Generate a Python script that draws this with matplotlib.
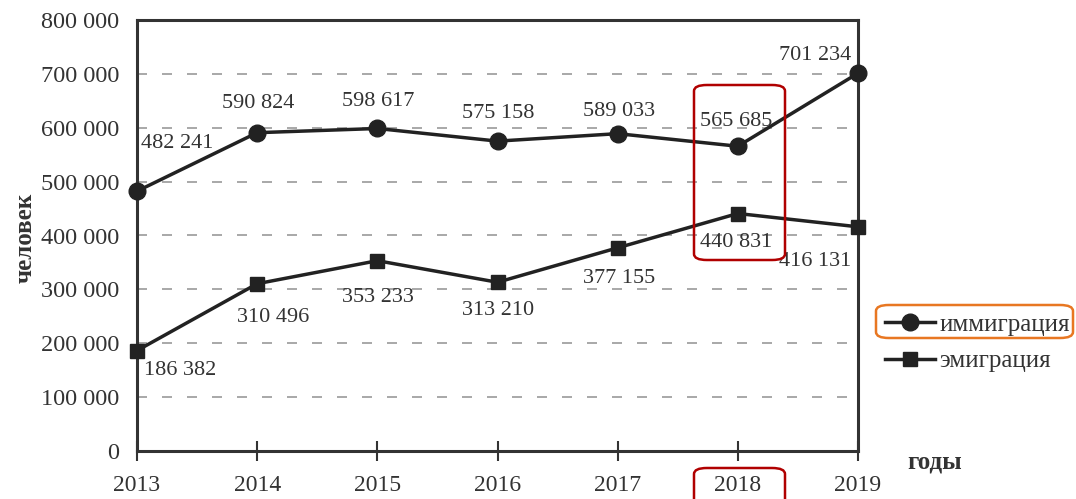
import matplotlib.pyplot as plt
from matplotlib.patches import FancyBboxPatch
from matplotlib.lines import Line2D

years = [2013, 2014, 2015, 2016, 2017, 2018, 2019]
immigration = [482241, 590824, 598617, 575158, 589033, 565685, 701234]
emigration = [186382, 310496, 353233, 313210, 377155, 440831, 416131]
yticks = [0, 100000, 200000, 300000, 400000, 500000, 600000, 700000, 800000]

# label offsets in pixels relative to each point
imm_offsets = [(40, 48), (1, 29), (1, 27), (1, 28), (1, 22), (-2, 25), (-43, 18)]
emi_offsets = [(43, -20), (16, -34), (1, -37), (1, -28), (1, -31), (-2, -29), (-43, -35)]

def fmt(v):
    return f'{v:,}'.replace(',', ' ')

plt.rcParams['font.family'] = ['Liberation Serif', 'DejaVu Serif']
txt = '#333333'

fig = plt.figure(figsize=(10.76, 4.99), dpi=100)
ax = fig.add_axes([137 / 1076, 1 - 451 / 499, (858 - 137) / 1076, (451 - 20) / 499])

ax.plot(years, immigration, color='#222222', lw=2.5, marker='o', ms=12, clip_on=False, zorder=5)
ax.plot(years, emigration, color='#222222', lw=2.5, marker='s', ms=10.5, clip_on=False, zorder=5)

for x, y, off in zip(years, immigration, imm_offsets):
    ax.annotate(fmt(y), (x, y), xytext=off, textcoords='offset pixels',
                ha='center', va='center', fontsize=16, color=txt)
for x, y, off in zip(years, emigration, emi_offsets):
    ax.annotate(fmt(y), (x, y), xytext=off, textcoords='offset pixels',
                ha='center', va='center', fontsize=16, color=txt)

ax.set_xlim(2013, 2019)
ax.set_ylim(0, 800000)
ax.set_xticks(years)
ax.set_xticklabels([str(y) for y in years])
ax.set_yticks(yticks)
ax.set_yticklabels([fmt(v) for v in yticks])
ax.tick_params(axis='x', direction='inout', length=14, width=1.5, color='#333333',
               pad=10, labelsize=17, labelcolor=txt)
ax.tick_params(axis='y', length=0, pad=13, labelsize=17.5, labelcolor=txt)

for yv in yticks[1:-1]:
    ax.axhline(yv, color='#999999', lw=1.2, dashes=(6, 9), zorder=1)

for s in ax.spines.values():
    s.set_linewidth(2.2)
    s.set_color('#333333')

fig.text(25 / 1076, 1 - 238 / 499, 'человек', rotation=90, ha='center', va='center',
         fontsize=18, fontweight='bold', color=txt)
fig.text(935 / 1076, 1 - 462 / 499, 'годы', ha='center', va='center',
         fontsize=18, fontweight='bold', color=txt)

handles = [
    Line2D([], [], color='#222222', lw=2.5, marker='o', ms=12),
    Line2D([], [], color='#222222', lw=2.5, marker='s', ms=10.5),
]
fig.legend(handles, ['иммиграция', 'эмиграция'], loc='center left',
           bbox_to_anchor=(862 / 1076, 1 - 343 / 499), frameon=False,
           fontsize=18, handlelength=2.0, handletextpad=0.2, labelspacing=0.55,
           labelcolor=txt)

# highlight boxes
def box(x0, y0, x1, y1, color):
    fig.patches.append(FancyBboxPatch(
        (x0 / 1076, 1 - y1 / 499), (x1 - x0) / 1076, (y1 - y0) / 499,
        boxstyle='round,pad=0,rounding_size=0.012', transform=fig.transFigure,
        fill=False, edgecolor=color, lw=1.8, zorder=10))

box(694, 85, 785, 260, '#b00000')
box(694, 468, 785, 510, '#b00000')
box(876, 305, 1073, 338, '#e87722')

fig.savefig('out.png', dpi=100)
